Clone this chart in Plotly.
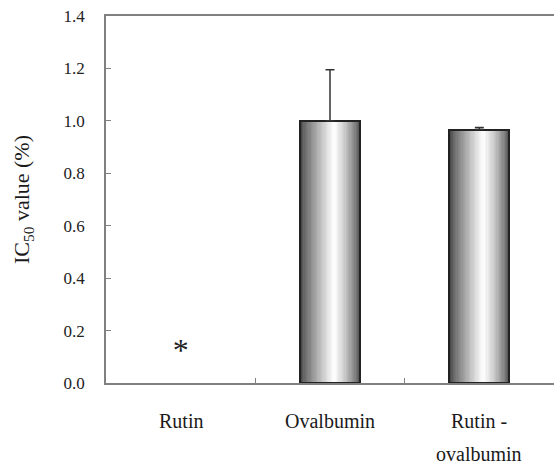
import plotly.graph_objects as go
from plotly.colors import sample_colorscale

categories = ["Rutin", "Ovalbumin", "Rutin -<br>ovalbumin"]
ic50_values = [None, 1.00, 0.967]
ic50_errors = [0, 0.195, 0.008]
asterisk_y = 0.115
y_ticks = [0.0, 0.2, 0.4, 0.6, 0.8, 1.0, 1.2, 1.4]
y_ticklabels = ["0.0", "0.2", "0.4", "0.6", "0.8", "1.0", "1.2", "1.4"]

FONT = "Liberation Serif"
bar_w = 0.40
n_slices = 48
gradient = [[0.0, "#343434"], [0.07, "#666666"], [0.3, "#b0b0b0"],
            [0.52, "#f2f2f2"], [0.58, "#ffffff"], [0.75, "#cccccc"],
            [0.92, "#858585"], [1.0, "#555555"]]
colors = sample_colorscale(gradient, [(i + 0.5) / n_slices for i in range(n_slices)])

xi = list(range(len(categories)))
fig = go.Figure()
for i, c in enumerate(colors):
    fig.add_trace(go.Bar(
        x=xi, y=ic50_values, width=bar_w / n_slices,
        offset=-bar_w / 2 + i * bar_w / n_slices,
        marker=dict(color=c, line=dict(width=0)),
        showlegend=False, hoverinfo="skip"))

fig.add_trace(go.Bar(
    x=xi, y=ic50_values, width=bar_w,
    marker=dict(color="rgba(0,0,0,0)", line=dict(color="#222222", width=2)),
    error_y=dict(type="data", array=ic50_errors, symmetric=False, arrayminus=[0]*3,
                 color="#333333", thickness=1.5, width=4.5),
    showlegend=False))

fig.add_trace(go.Scatter(
    x=[0], y=[asterisk_y], mode="text", text=["*"],
    textfont=dict(family=FONT, size=32, color="#222222"),
    showlegend=False))

for i, lab in enumerate(categories):
    for j, line in enumerate(lab.split("<br>")):
        fig.add_annotation(x=i, xref="x", y=0, yref="paper", yanchor="top",
                           text=line, showarrow=False, yshift=-25 - 33 * j,
                           font=dict(family=FONT, size=20, color="#1a1a1a"))

fig.update_layout(
    width=554, height=466,
    margin=dict(l=106, r=0, t=16, b=83),
    paper_bgcolor="white", plot_bgcolor="white",
    barmode="overlay", bargap=0,
    font=dict(family=FONT, color="#1a1a1a"),
)
fig.update_xaxes(
    range=[-0.5, 2.5], tickmode="array", tickvals=[-0.5, 0.5, 1.5, 2.5],
    showticklabels=False, ticks="inside", ticklen=5, tickcolor="#808080",
    showline=True, linecolor="#808080", linewidth=1.5, mirror=True,
    showgrid=False, zeroline=False)
fig.update_yaxes(
    range=[0, 1.4], tickmode="array", tickvals=y_ticks, ticktext=y_ticklabels,
    ticks="inside", ticklen=5, tickcolor="#808080", ticklabelstandoff=16,
    tickfont=dict(family=FONT, size=17, color="#222222"),
    showline=True, linecolor="#808080", linewidth=1.5,
    showgrid=False, zeroline=False,
    title=dict(text="IC<sub>50</sub> value (%)", standoff=28,
               font=dict(family=FONT, size=22, color="#1a1a1a")))

fig.write_html("out.html")
